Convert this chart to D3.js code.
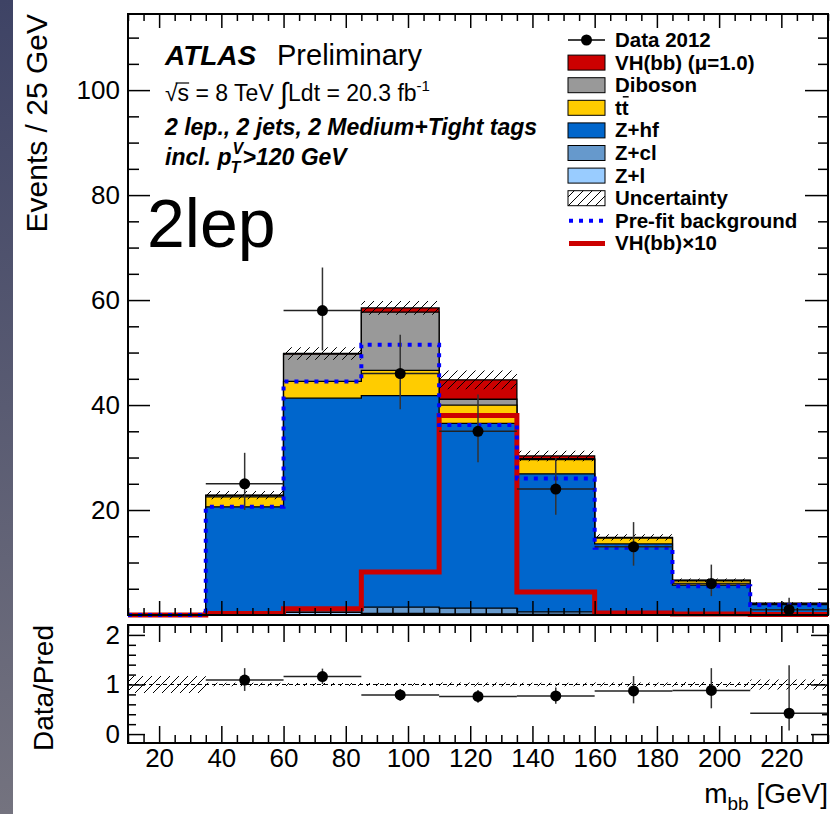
<!DOCTYPE html>
<html>
<head>
<meta charset="utf-8">
<script src="https://cdn.jsdelivr.net/npm/d3@7"></script>
<style>
  html, body { margin: 0; padding: 0; background: #fff; }
  svg { display: block; }
</style>
</head>
<body>
<svg id="chart"></svg>
<script>
// m_bb bins (GeV), 25 GeV wide
const binLow = [10, 35, 60, 85, 110, 135, 160, 185, 210];
const binWidth = 25;

// stacked components, events per bin (bottom of the stack first)
const zl      = [0, 0.1, 0.5, 0.3, 0.2, 0.1, 0.05, 0, 0];
const zcl     = [0, 0.2, 0.3, 1.2, 1.1, 0.5, 0.2, 0.1, 0];
const zhf     = [0, 20.3, 40.5, 40.3, 35.2, 26.3, 13.3, 5.6, 2.0];
const ttbar   = [0, 1.9, 3.2, 4.8, 3.5, 2.7, 1.1, 0.8, 0.2];
const diboson = [0, 0.3, 5.2, 11.1, 1.1, 0.2, 0.1, 0.1, 0];
const vh      = [0, 0.03, 0.12, 0.8, 3.7, 0.5, 0.05, 0.02, 0.01];

// systematic uncertainty on the total (hatched)
const uncert  = [0, 0.8, 1.2, 1.3, 1.8, 1.0, 0.6, 0.35, 0.2];

// overlaid lines
const preFit  = [0, 20.6, 44.5, 51.5, 36.2, 26.0, 12.8, 5.5, 1.9];
const vhx10   = [0, 0.3, 1.2, 8.2, 38, 4.4, 0.4, 0.2, 0.1];

// data 2012 with poisson errors
const data     = [0, 25, 58, 46, 35, 24, 13, 6, 1];
const dataUp   = [0, 5.9, 8.2, 7.4, 7.0, 5.9, 4.7, 3.6, 2.3];
const dataDown = [0, 5.0, 7.6, 6.8, 5.9, 4.9, 3.6, 2.4, 0.8];

// ratio panel
const ratio      = [null, 1.09, 1.16, 0.79, 0.76, 0.77, 0.87, 0.88, 0.42];
const ratioUp    = [0, 0.24, 0.16, 0.12, 0.13, 0.17, 0.30, 0.45, 0.97];
const ratioDown  = [0, 0.22, 0.15, 0.12, 0.13, 0.16, 0.25, 0.36, 0.35];
const ratioBand  = [0.17, 0.035, 0.03, 0.03, 0.04, 0.035, 0.04, 0.05, 0.1];

// axis ticks
const yMajor = [20, 40, 60, 80, 100];
const xMajor = [20, 40, 60, 80, 100, 120, 140, 160, 180, 200, 220];
const rMajor = [0, 1, 2];
const rMinor = [0.2, 0.4, 0.6, 0.8, 1.2, 1.4, 1.6, 1.8];

const legendLabels = ['Data 2012', 'VH(bb) (\u03bc=1.0)', 'Diboson', 'tt', 'Z+hf', 'Z+cl', 'Z+l',
  'Uncertainty', 'Pre-fit background', 'VH(bb)\u00d710'];

const colors = { zl: '#99ccff', zcl: '#6699cc', zhf: '#0066cc', tt: '#ffcc00', db: '#999999', vh: '#cc0000' };
const font = '"Liberation Sans", Arial, Helvetica, sans-serif';

const width = 832, height = 814;
const svg = d3.select('#chart').attr('width', width).attr('height', height)
  .attr('font-family', font);

const x = d3.scaleLinear().domain([10, 235]).range([128, 828]);
const y = d3.scaleLinear().domain([0, 114.5]).range([615, 14]);
const yr = d3.scaleLinear().domain([-0.18, 2.2]).range([743, 625]);

const defs = svg.append('defs');
const grad = defs.append('linearGradient').attr('id', 'strip')
  .attr('x1', 0).attr('y1', 0).attr('x2', 0).attr('y2', 1);
grad.append('stop').attr('offset', '0%').attr('stop-color', '#3e4365');
grad.append('stop').attr('offset', '100%').attr('stop-color', '#74737f');

const hatch = defs.append('pattern').attr('id', 'hatch')
  .attr('patternUnits', 'userSpaceOnUse').attr('width', 9).attr('height', 9);
hatch.append('path').attr('d', 'M0,9 L9,0 M-3,3 L3,-3 M6,12 L12,6')
  .attr('stroke', '#000').attr('stroke-width', 1);

// dark strip on the left edge of the screenshot
svg.append('rect').attr('x', 0).attr('y', 0).attr('width', 13).attr('height', height)
  .attr('fill', 'url(#strip)');

// bin edges helper for step curves
const steps = vals => binLow.map((b, i) => [b, vals[i]])
  .concat([[binLow[binLow.length - 1] + binWidth, vals[vals.length - 1]]]);

const main = svg.append('g');

// stacked histograms
const rows = binLow.map((b, i) => ({ zl: zl[i], zcl: zcl[i], zhf: zhf[i], tt: ttbar[i], db: diboson[i], vh: vh[i] }));
const series = d3.stack().keys(['zl', 'zcl', 'zhf', 'tt', 'db', 'vh'])(rows);

const stepArea = d3.area().curve(d3.curveStepAfter)
  .x(d => x(d[0])).y0(y(0)).y1(d => y(d[1]));

series.slice().reverse().forEach(s => {
  main.append('path')
    .attr('d', stepArea(steps(s.map(d => d[1]))))
    .attr('fill', colors[s.key])
    .attr('stroke', '#000')
    .attr('stroke-width', 1.3);
});

// uncertainty band
const total = series[series.length - 1].map(d => d[1]);
const band = d3.area().curve(d3.curveStepAfter)
  .x(d => x(d[0])).y0(d => y(d[1] - d[2])).y1(d => y(d[1] + d[2]));
const bandPts = binLow.map((b, i) => [b, total[i], uncert[i]])
  .concat([[235, total[8], uncert[8]]]);
main.append('path').attr('d', band(bandPts)).attr('fill', 'url(#hatch)');

// VH x10 and pre-fit outlines
const stepLine = d3.line().curve(d3.curveStepAfter).x(d => x(d[0])).y(d => y(d[1]));
main.append('path').attr('d', stepLine(steps(vhx10)))
  .attr('fill', 'none').attr('stroke', '#cc0000').attr('stroke-width', 5);
main.append('path').attr('d', stepLine(steps(preFit)))
  .attr('fill', 'none').attr('stroke', '#0000ff').attr('stroke-width', 4)
  .attr('stroke-dasharray', '4,6');

// data points
const pts = binLow.map((b, i) => ({ b, v: data[i], up: dataUp[i], dn: dataDown[i] })).filter(d => d.v > 0);
const dp = main.append('g');
dp.selectAll('line.h').data(pts).enter().append('line')
  .attr('x1', d => x(d.b)).attr('x2', d => x(d.b + binWidth))
  .attr('y1', d => y(d.v)).attr('y2', d => y(d.v))
  .attr('stroke', '#222').attr('stroke-width', 1.5);
dp.selectAll('line.v').data(pts).enter().append('line')
  .attr('x1', d => x(d.b + binWidth / 2)).attr('x2', d => x(d.b + binWidth / 2))
  .attr('y1', d => y(d.v + d.up)).attr('y2', d => y(Math.max(0, d.v - d.dn)))
  .attr('stroke', '#333').attr('stroke-width', 1.5);
dp.selectAll('circle').data(pts).enter().append('circle')
  .attr('cx', d => x(d.b + binWidth / 2)).attr('cy', d => y(d.v)).attr('r', 5.5).attr('fill', '#000');

// ratio panel
const rp = svg.append('g');
const rBandPts = binLow.map((b, i) => [b, ratioBand[i]]).concat([[235, ratioBand[8]]]);
const rBand = d3.area().curve(d3.curveStepAfter)
  .x(d => x(d[0])).y0(d => yr(1 - d[1])).y1(d => yr(1 + d[1]));
rp.append('path').attr('d', rBand(rBandPts)).attr('fill', 'url(#hatch)');
rp.append('line').attr('x1', x(10)).attr('x2', x(235)).attr('y1', yr(1)).attr('y2', yr(1))
  .attr('stroke', '#000').attr('stroke-width', 1).attr('stroke-dasharray', '4,3');

const rpts = binLow.map((b, i) => ({ b, v: ratio[i], up: ratioUp[i], dn: ratioDown[i] })).filter(d => d.v != null);
rp.selectAll('line.h').data(rpts).enter().append('line')
  .attr('x1', d => x(d.b)).attr('x2', d => x(d.b + binWidth))
  .attr('y1', d => yr(d.v)).attr('y2', d => yr(d.v))
  .attr('stroke', '#222').attr('stroke-width', 1.5);
rp.selectAll('line.v').data(rpts).enter().append('line')
  .attr('x1', d => x(d.b + binWidth / 2)).attr('x2', d => x(d.b + binWidth / 2))
  .attr('y1', d => yr(d.v + d.up)).attr('y2', d => yr(d.v - d.dn))
  .attr('stroke', '#333').attr('stroke-width', 1.5);
rp.selectAll('circle').data(rpts).enter().append('circle')
  .attr('cx', d => x(d.b + binWidth / 2)).attr('cy', d => yr(d.v)).attr('r', 5.5).attr('fill', '#000');

// axes: ticks point inwards, drawn over the histograms
function styleAxis(g) {
  g.select('.domain').remove();
  g.attr('font-family', font).attr('font-size', 26);
  g.selectAll('line').attr('stroke', '#000').attr('stroke-width', 1.5);
  g.selectAll('text').attr('fill', '#000');
}
function axisPair(axisFn, scale, major, minor, bigLen, smallLen, labels, pos, pad) {
  const gMin = svg.append('g').attr('transform', pos)
    .call(axisFn(scale).tickValues(minor).tickSize(-smallLen).tickFormat(''));
  styleAxis(gMin);
  const gMaj = svg.append('g').attr('transform', pos)
    .call(axisFn(scale).tickValues(major).tickSize(-bigLen).tickPadding(pad)
      .tickFormat(labels ? d3.format('d') : ''));
  styleAxis(gMaj);
}
const yMinor = d3.range(5, 115, 5).filter(v => v % 20 !== 0);
const xMinor = d3.range(10, 236, 5).filter(v => v % 20 !== 0);

axisPair(d3.axisLeft, y, yMajor, yMinor, 22, 11, true, 'translate(128,0)', 8);
axisPair(d3.axisRight, y, yMajor, yMinor, 23, 10, false, 'translate(828,0)', 8);
axisPair(d3.axisTop, x, xMajor, xMinor, 14, 7, false, 'translate(0,14)', 4);
axisPair(d3.axisBottom, x, xMajor, xMinor, 14, 7, false, 'translate(0,615)', 4);

axisPair(d3.axisLeft, yr, rMajor, rMinor, 17, 8, true, 'translate(128,0)', 8);
axisPair(d3.axisRight, yr, rMajor, rMinor, 17, 6, false, 'translate(828,0)', 8);
axisPair(d3.axisTop, x, xMajor, xMinor, 17, 8, false, 'translate(0,625)', 4);
axisPair(d3.axisBottom, x, xMajor, xMinor, 17, 8, true, 'translate(0,743)', 6);

// frames
svg.append('rect').attr('x', x(10)).attr('y', y(114.5)).attr('width', x(235) - x(10)).attr('height', y(0) - y(114.5))
  .attr('fill', 'none').attr('stroke', '#000').attr('stroke-width', 2);
svg.append('rect').attr('x', x(10)).attr('y', yr(2.2)).attr('width', x(235) - x(10)).attr('height', yr(-0.18) - yr(2.2))
  .attr('fill', 'none').attr('stroke', '#000').attr('stroke-width', 2);

// axis titles
svg.append('text').attr('transform', 'translate(47,14) rotate(-90)')
  .attr('text-anchor', 'end').attr('font-size', 30).text('Events / 25 GeV');
svg.append('text').attr('transform', 'translate(53,625) rotate(-90)')
  .attr('text-anchor', 'end').attr('font-size', 28).text('Data/Pred');
const xt = svg.append('text').attr('x', 828).attr('y', 803).attr('text-anchor', 'end').attr('font-size', 28);
xt.append('tspan').text('m');
xt.append('tspan').attr('font-size', 19).attr('dy', 7).text('bb');
xt.append('tspan').attr('dy', -7).text(' [GeV]');

// labels top left
const t1 = svg.append('text').attr('x', 165).attr('y', 65).attr('font-size', 28);
t1.append('tspan').attr('font-weight', 'bold').attr('font-style', 'italic').text('ATLAS');
t1.append('tspan').attr('x', 277).attr('font-size', 29).text('Preliminary');

const t2 = svg.append('text').attr('x', 165).attr('y', 101).attr('font-size', 23);
t2.append('tspan').text('\u221as = 8 TeV ');
t2.append('tspan').attr('font-size', 29).attr('dy', 2).text('\u222b');
t2.append('tspan').attr('dy', -2).text('Ldt = 20.3 fb');
t2.append('tspan').attr('font-size', 15).attr('dy', -10).text('-1');
{
  const n = t2.node();
  const s = n.getExtentOfChar(1);
  const r = n.getExtentOfChar(0);
  svg.append('line').attr('x1', r.x + r.width - 2).attr('x2', s.x + s.width)
    .attr('y1', r.y + 3).attr('y2', r.y + 3).attr('stroke', '#000').attr('stroke-width', 1.2);
}

svg.append('text').attr('x', 165).attr('y', 135).attr('font-size', 23)
  .attr('font-weight', 'bold').attr('font-style', 'italic')
  .text('2 lep., 2 jets, 2 Medium+Tight tags');

const t4 = svg.append('text').attr('x', 165).attr('y', 165).attr('font-size', 23)
  .attr('font-weight', 'bold').attr('font-style', 'italic').text('incl. p');
const pEnd = 165 + t4.node().getComputedTextLength();
svg.append('text').attr('x', pEnd + 1).attr('y', 154).attr('font-size', 16)
  .attr('font-weight', 'bold').attr('font-style', 'italic').text('V');
svg.append('text').attr('x', pEnd - 1).attr('y', 173).attr('font-size', 16)
  .attr('font-weight', 'bold').attr('font-style', 'italic').text('T');
svg.append('text').attr('x', pEnd + 11).attr('y', 165).attr('font-size', 23)
  .attr('font-weight', 'bold').attr('font-style', 'italic').text('>120 GeV');

svg.append('text').attr('x', 147).attr('y', 247).attr('font-size', 68)
  .text('2lep');

// legend
const legendKinds = [
  { kind: 'data' },
  { kind: 'box', fill: colors.vh },
  { kind: 'box', fill: colors.db },
  { kind: 'box', fill: colors.tt, bar: true },
  { kind: 'box', fill: colors.zhf },
  { kind: 'box', fill: colors.zcl },
  { kind: 'box', fill: colors.zl },
  { kind: 'box', fill: 'url(#hatch)' },
  { kind: 'line', stroke: '#0000ff', w: 4, dash: '4,6' },
  { kind: 'line', stroke: '#cc0000', w: 5 }
];
const leg = svg.append('g');
legendLabels.forEach((label, i) => {
  const cy = 40 + i * 22.6;
  const k = legendKinds[i];
  if (k.kind === 'data') {
    leg.append('line').attr('x1', 568).attr('x2', 605).attr('y1', cy).attr('y2', cy)
      .attr('stroke', '#000').attr('stroke-width', 1.5);
    leg.append('circle').attr('cx', 586.5).attr('cy', cy).attr('r', 5.5).attr('fill', '#000');
  } else if (k.kind === 'box') {
    leg.append('rect').attr('x', 568).attr('y', cy - 7.5).attr('width', 37).attr('height', 15)
      .attr('fill', k.fill).attr('stroke', '#000').attr('stroke-width', 1);
  } else {
    const ln = leg.append('line').attr('x1', 569).attr('x2', 605).attr('y1', cy).attr('y2', cy)
      .attr('stroke', k.stroke).attr('stroke-width', k.w);
    if (k.dash) ln.attr('stroke-dasharray', k.dash);
  }
  const t = leg.append('text').attr('x', 615).attr('y', cy + 7).attr('font-size', 20.5)
    .attr('font-weight', 'bold').text(label);
  if (k.bar) {
    const e = t.node().getExtentOfChar(1);
    leg.append('line').attr('x1', e.x + 1).attr('x2', e.x + e.width)
      .attr('y1', e.y + 1).attr('y2', e.y + 1).attr('stroke', '#000').attr('stroke-width', 1.5);
  }
});
</script>
</body>
</html>
